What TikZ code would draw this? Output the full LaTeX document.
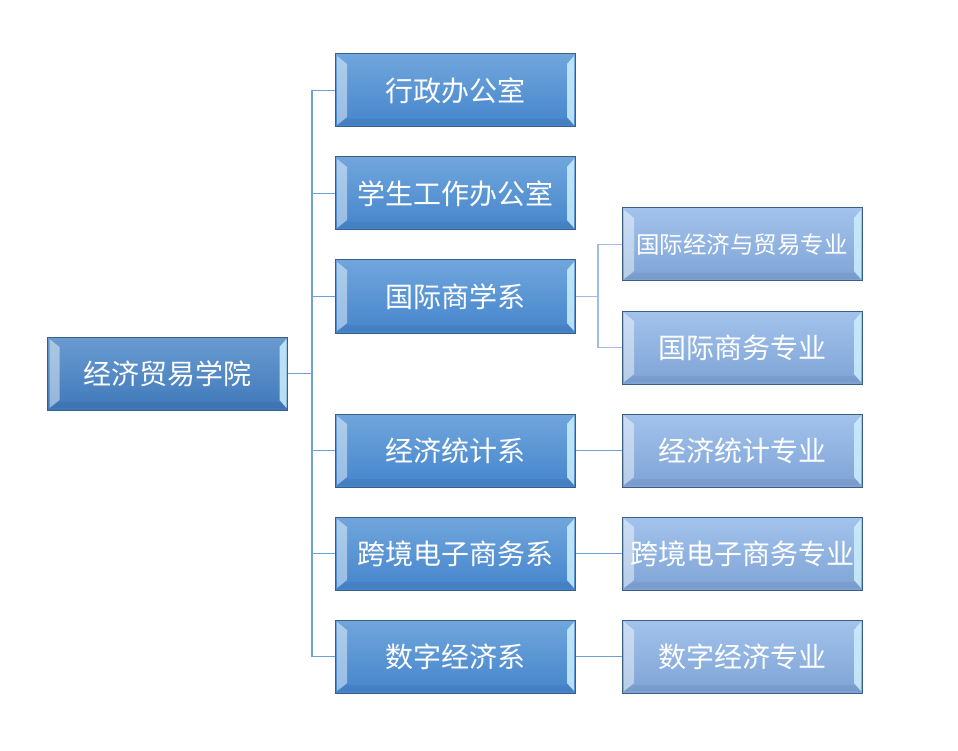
\documentclass[tikz,border=0pt]{standalone}
\usepackage{fontspec}
\newfontfamily\cjk{Noto Sans CJK SC}
\definecolor{edgeblue}{HTML}{3B5E85}
\definecolor{linkblue}{HTML}{6FA0D8}
\definecolor{sublink}{HTML}{9DBDE6}
\tikzset{
  bevel/.style={path picture={
      % light strips on the left and right side
      \fill[white,opacity=.45]
        ([xshift=2pt,yshift=-2pt]path picture bounding box.north west) --
        ([xshift=12pt,yshift=-10pt]path picture bounding box.north west) --
        ([xshift=12pt,yshift=10pt]path picture bounding box.south west) --
        ([xshift=2pt,yshift=2pt]path picture bounding box.south west) -- cycle;
      \fill[cyan!20,opacity=.85]
        ([xshift=-1pt,yshift=-2pt]path picture bounding box.north east) --
        ([xshift=-8pt,yshift=-10pt]path picture bounding box.north east) --
        ([xshift=-8pt,yshift=10pt]path picture bounding box.south east) --
        ([xshift=-1pt,yshift=2pt]path picture bounding box.south east) -- cycle;
      \fill[black,opacity=.05]
        ([xshift=2pt,yshift=2pt]path picture bounding box.south west) --
        ([xshift=12pt,yshift=8pt]path picture bounding box.south west) --
        ([xshift=-8pt,yshift=8pt]path picture bounding box.south east) --
        ([xshift=-1pt,yshift=2pt]path picture bounding box.south east) -- cycle;
  }},
  unitbox/.style={draw=edgeblue,line width=1pt,bevel,text=white,
    minimum width=240pt,minimum height=73pt,inner sep=0pt,
    font=\cjk\fontsize{28}{31}\selectfont},
  rootbox/.style={unitbox,top color=HTML6A9BD0,bottom color=HTML3F79BA},
  deptbox/.style={unitbox,top color=HTML70A6DC,bottom color=HTML4585CC},
  majorbox/.style={unitbox,top color=HTMLA3C3EC,bottom color=HTML7EA3D5},
  link/.style={draw=linkblue,line width=1.4pt},
  sublinkstyle/.style={draw=sublink,line width=1.8pt}
}
\definecolor{HTML6A9BD0}{HTML}{6A9BD0}
\definecolor{HTML3F79BA}{HTML}{3F79BA}
\definecolor{HTML70A6DC}{HTML}{70A6DC}
\definecolor{HTML4585CC}{HTML}{4585CC}
\definecolor{HTMLA3C3EC}{HTML}{A3C3EC}
\definecolor{HTML7EA3D5}{HTML}{7EA3D5}
\begin{document}
\begin{tikzpicture}[x=1pt,y=-1pt]
  \useasboundingbox (0,0) rectangle (958,751);
  % college
  \node[rootbox] (college) at (167.5,373.5) {经济贸易学院};
  % offices and departments
  \node[deptbox] (admin) at (455,90.5) {行政办公室};
  \node[deptbox] (student) at (455,193.5) {学生工作办公室};
  \node[deptbox] (intl) at (455,296.5) {国际商学系};
  \node[deptbox] (stat) at (455,450.5) {经济统计系};
  \node[deptbox] (ecom) at (455,553.5) {跨境电子商务系};
  \node[deptbox] (digit) at (455,656.5) {数字经济系};
  % majors
  \node[majorbox,font=\cjk\fontsize{23.5}{26}\selectfont] (trade) at (742,244.5) {国际经济与贸易专业};
  \node[majorbox] (business) at (742,347.5) {国际商务专业};
  \node[majorbox] (statmaj) at (742,450.5) {经济统计专业};
  \node[majorbox] (ecommaj) at (742,553.5) {跨境电子商务专业};
  \node[majorbox] (digitmaj) at (742,656.5) {数字经济专业};
  % connectors
  \coordinate (trunk) at (312,373.5);
  \draw[link] (college.east) -- (trunk);
  \foreach \d in {admin,student,intl,stat,ecom,digit}
    \draw[link] (\d.west) -| (trunk);
  \coordinate (fork) at (598,296.5);
  \draw[sublinkstyle] (intl.east) -- (fork);
  \draw[sublinkstyle] (trade.west) -| (fork);
  \draw[sublinkstyle] (business.west) -| (fork);
  \draw[link] (stat.east) -- (statmaj.west);
  \draw[link] (ecom.east) -- (ecommaj.west);
  \draw[link] (digit.east) -- (digitmaj.west);
\end{tikzpicture}
\end{document}
